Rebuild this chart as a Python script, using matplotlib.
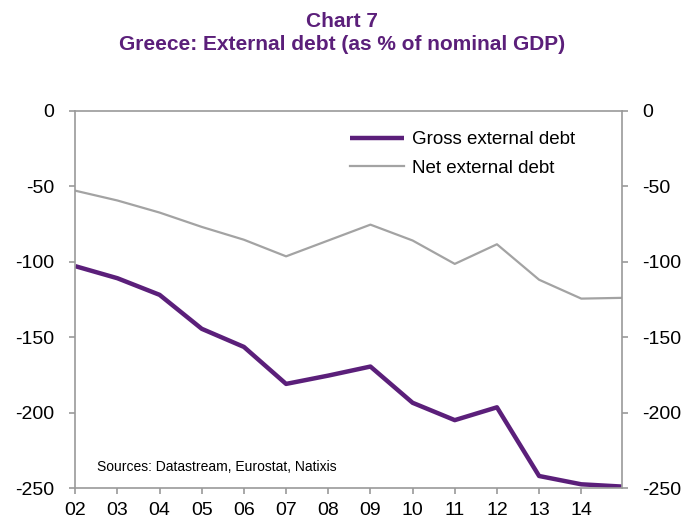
import numpy as np
import matplotlib.pyplot as plt

plt.rcParams['font.family'] = ['Liberation Sans', 'DejaVu Sans']
plt.rcParams['axes.unicode_minus'] = False

# years since 2002 (last point is just before 2015)
years = [0, 1, 2, 3, 4, 5, 6, 7, 8, 9, 10, 11, 12, 12.96]
gross = [-103, -111, -122, -144.5, -156.5, -181, -175.5, -169.5, -193.5, -205, -196.5, -242, -247.5, -249]
net = [-53, -59.5, -67.5, -77, -85.5, -96.5, -86, -75.5, -86, -101.5, -88.5, -112, -124.5, -124]
tick_labels = ['02', '03', '04', '05', '06', '07', '08', '09', '10', '11', '12', '13', '14']

purple = '#5b1f7a'
grey = '#a3a3a3'
axis_col = '#9a9a9a'

fig = plt.figure(figsize=(6.84, 5.22), dpi=100)
ax = fig.add_axes([0.110, 0.065, 0.799, 0.723])

ax.plot(years, gross, color=purple, lw=3.2, solid_capstyle='butt', label='Gross external debt')
ax.plot(years, net, color=grey, lw=1.6, label='Net external debt')

ax.set_xlim(0, 12.96)
ax.set_ylim(-250, 0)
ax.set_xticks(range(len(tick_labels)))
ax.set_xticklabels(tick_labels)
ax.set_yticks(np.arange(-250, 1, 50))

for s in ax.spines.values():
    s.set_color(axis_col)
    s.set_linewidth(1.2)

ax.tick_params(axis='both', colors=axis_col, labelcolor='black', labelsize=14,
               length=4, width=1.2, direction='out')
ax.tick_params(axis='y', right=True, labelright=True, pad=11)
ax.tick_params(axis='x', pad=6)

leg = ax.legend(loc='upper left', bbox_to_anchor=(0.471, 0.99), frameon=False,
                fontsize=13.5, handlelength=2.9, handletextpad=0.45, labelspacing=0.6)

ax.text(0.04, 0.045, 'Sources: Datastream, Eurostat, Natixis', transform=ax.transAxes,
        fontsize=10, color='black')

fig.text(0.5, 0.949, 'Chart 7', ha='center', va='baseline', fontsize=15,
         fontweight='bold', color=purple)
fig.text(0.5, 0.904, 'Greece: External debt (as % of nominal GDP)', ha='center',
         va='baseline', fontsize=15, fontweight='bold', color=purple)

fig.savefig('out.png', dpi=100)
